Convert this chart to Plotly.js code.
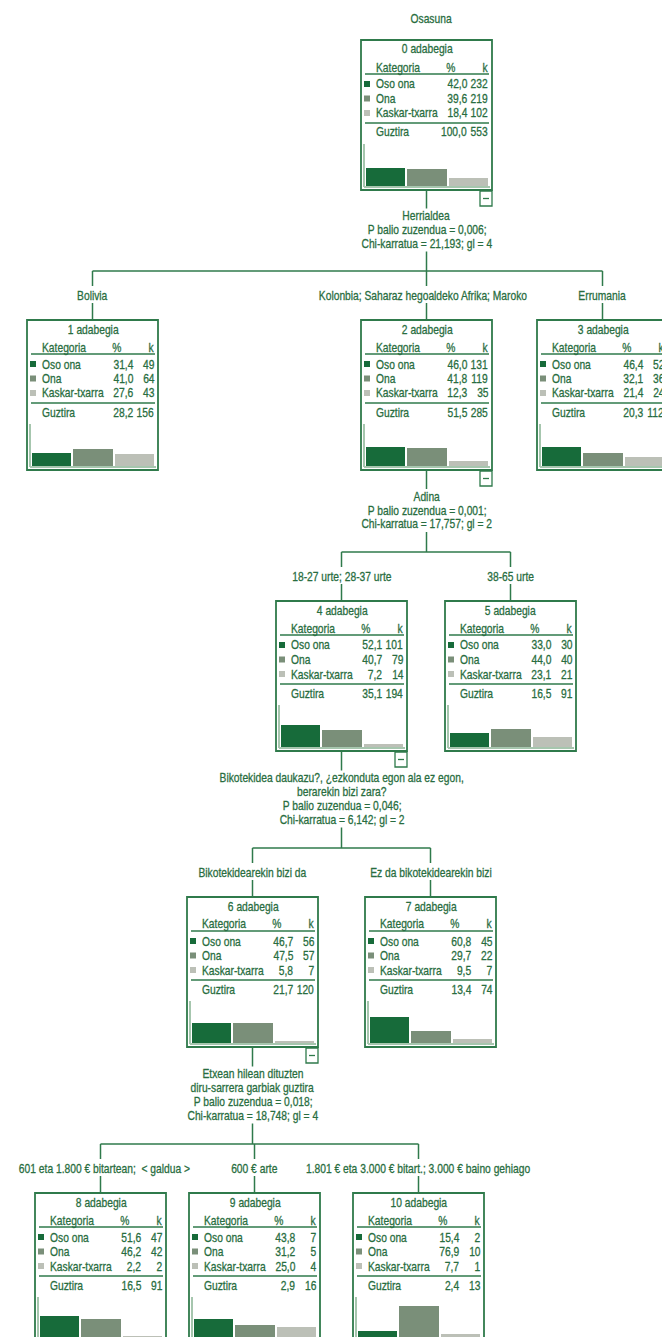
<!DOCTYPE html>
<html><head><meta charset="utf-8">
<script src="https://cdn.plot.ly/plotly-3.0.1.min.js"></script>
<style>html,body{margin:0;padding:0;background:#fff}</style>
</head><body><div id="chart" style="width:662px;height:1337px"></div>
<script>
// ---------------- DATA ----------------
const chartTitle = "Osasuna";
const categories = ["Oso ona", "Ona", "Kaskar-txarra"];
const totalLabel = "Guztira";
const nodeIds   = [0, 1, 2, 3, 4, 5, 6, 7, 8, 9, 10];
const parentOf  = [null, 0, 0, 0, 2, 2, 4, 4, 6, 6, 6];
const pctOsoOna = [42.0, 31.4, 46.0, 46.4, 52.1, 33.0, 46.7, 60.8, 51.6, 43.8, 15.4];
const pctOna    = [39.6, 41.0, 41.8, 32.1, 40.7, 44.0, 47.5, 29.7, 46.2, 31.2, 76.9];
const pctKaskar = [18.4, 27.6, 12.3, 21.4, 7.2, 23.1, 5.8, 9.5, 2.2, 25.0, 7.7];
const nOsoOna   = [232, 49, 131, 52, 101, 30, 56, 45, 47, 7, 2];
const nOna      = [219, 64, 119, 36, 79, 40, 57, 22, 42, 5, 10];
const nKaskar   = [102, 43, 35, 24, 14, 21, 7, 7, 2, 4, 1];
const totalPct  = [100.0, 28.2, 51.5, 20.3, 35.1, 16.5, 21.7, 13.4, 16.5, 2.9, 2.4];
const totalN    = [553, 156, 285, 112, 194, 91, 120, 74, 91, 16, 13];
const edgeLabels = [
  "", "Bolivia", "Kolonbia; Saharaz hegoaldeko Afrika; Maroko", "Errumania",
  "18-27 urte; 28-37 urte", "38-65 urte",
  "Bikotekidearekin bizi da", "Ez da bikotekidearekin bizi",
  "601 eta 1.800 € bitartean;  &lt; galdua &gt;", "600 € arte",
  "1.801 € eta 3.000 € bitart.; 3.000 € baino gehiago"
];
const splitLabels = {
  0: ["Herrialdea", "P balio zuzendua = 0,006;", "Chi-karratua = 21,193; gl = 4"],
  2: ["Adina", "P balio zuzendua = 0,001;", "Chi-karratua = 17,757; gl = 2"],
  4: ["Bikotekidea daukazu?, ¿ezkonduta egon ala ez egon,", "berarekin bizi zara?", "P balio zuzendua = 0,046;", "Chi-karratua = 6,142; gl = 2"],
  6: ["Etxean hilean dituzten", "diru-sarrera garbiak guztira", "P balio zuzendua = 0,018;", "Chi-karratua = 18,748; gl = 4"]
};

// ---------------- LAYOUT (positions / styles) ----------------
const nodeLeft = [361, 27, 361, 537, 276, 445, 187, 365, 35, 189, 353];
const nodeTop  = [40, 320, 320, 320, 601, 601, 897, 897, 1193, 1193, 1193];
const edgeLabelShift = [0, 0, -4, 0, 0, 0, 0, 0, 4, 0, -1];
const W = 662, H = 1337, BW = 131, BH = 150;
const FONT = "'Liberation Sans Narrow', 'Liberation Sans', Arial, sans-serif";
const NARROW = 0.79;
const TXT = "#286d40", LINE = "#2f7a4b", LIGHT = "#a6c6ae";
const barColors = ["#176b3a", "#7a8f79", "#bcc0b7"];
const FS = 13;

const shapes = [], annotations = [], traces = [];
const layout = {
  width: W, height: H, margin: {l: 0, r: 0, t: 0, b: 0},
  paper_bgcolor: "#ffffff", plot_bgcolor: "rgba(0,0,0,0)",
  showlegend: false, bargap: 0
};
const X = x => x / W, Y = y => 1 - y / H;
function line(x0, y0, x1, y1, color, width) {
  shapes.push({type: "line", xref: "paper", yref: "paper", x0: X(x0), y0: Y(y0), x1: X(x1), y1: Y(y1),
    line: {color: color || LINE, width: width || 1.5}});
}
function rect(x0, y0, x1, y1, lc, lw, fill) {
  shapes.push({type: "rect", xref: "paper", yref: "paper", x0: X(x0), y0: Y(y0), x1: X(x1), y1: Y(y1),
    line: {color: lc || "rgba(0,0,0,0)", width: lw || 0}, fillcolor: fill || "rgba(0,0,0,0)"});
}
function text(x, y, str, anchor, size, color) {
  annotations.push({xref: "paper", yref: "paper", x: X(x), y: Y(y), text: str, showarrow: false,
    xanchor: anchor || "center", yanchor: "middle", borderpad: 0,
    font: {family: FONT, size: size || FS, color: color || TXT}});
}
const fmt = v => v.toFixed(1).replace(".", ",");

text(431, 18, chartTitle, "center");

nodeIds.forEach((id, i) => {
  const L = nodeLeft[i], T = nodeTop[i], R = L + BW, B = T + BH;
  const pcts = [pctOsoOna[i], pctOna[i], pctKaskar[i]];
  const ns = [nOsoOna[i], nOna[i], nKaskar[i]];
  const PR = L + 106.5; // right edge of % column
  rect(L, T, R, B, LINE, 1.8);
  line(L + 3, T + 104, L + 3, T + 147, LIGHT, 2);
  line(L + 3, T + 147, R - 2, T + 147, LIGHT, 2);
  text(L + 66, T + 9, id + " adabegia", "center");
  text(L + 14, T + 27, "Kategoria", "left");
  text(L + 90, T + 27, "%", "center");
  text(R - 3, T + 27, "k", "right");
  line(L + 4, T + 34, R - 3, T + 34, LINE, 1.5);
  categories.forEach((c, r) => {
    const y = T + 44 + 14.5 * r;
    rect(L + 3, y - 3, L + 9, y + 3, null, 0, barColors[r]);
    text(L + 14, y, c, "left");
    text(PR, y, fmt(pcts[r]), "right");
    text(R - 3, y, String(ns[r]), "right");
  });
  line(L + 4, T + 83, R - 3, T + 83, LINE, 1.5);
  text(L + 14, T + 92, totalLabel, "left");
  text(PR, T + 92, fmt(totalPct[i]), "right");
  text(R - 3, T + 92, String(totalN[i]), "right");

  // mini bar chart through its own axes
  const a = i + 2;
  const bx0 = L + 4, bx1full = L + 128, bx1 = Math.min(bx1full, W);
  const frac = (bx1 - bx0) / (bx1full - bx0);
  layout["xaxis" + a] = {domain: [X(bx0), X(bx1)], range: [-0.5, -0.5 + 3 * frac], visible: false,
    fixedrange: true, anchor: "y" + a};
  layout["yaxis" + a] = {domain: [Y(T + 146), Y(T + 104)], range: [0, 100], visible: false,
    fixedrange: true, anchor: "x" + a};
  traces.push({type: "bar", x: [0, 1, 2], y: pcts, width: 0.95, marker: {color: barColors, line: {width: 0}},
    xaxis: "x" + a, yaxis: "y" + a, hoverinfo: "skip", showlegend: false});
});

// splits and connectors
Object.keys(splitLabels).forEach(key => {
  const p = +key;
  const L = nodeLeft[p], T = nodeTop[p], R = L + BW, B = T + BH;
  const cx = L + 65.5;
  const kids = nodeIds.filter(i => parentOf[i] === p);
  const hbar = Math.min(...kids.map(k => nodeTop[k])) - 49;
  rect(R - 12, B + 1, R, B + 16, LINE, 1.3, "#ffffff");
  line(R - 9, B + 8.5, R - 3, B + 8.5, LINE, 1.3);
  const lines = splitLabels[p];
  const n = lines.length;
  const cy = (B + hbar) / 2 - 1;
  const first = cy - (n - 1) * 7;
  const last = first + (n - 1) * 14;
  line(cx, B, cx, first - 7);
  lines.forEach((s, j) => text(cx, first + 14 * j, s, "center"));
  line(cx, last + 8, cx, hbar);
  const xs = kids.map(k => nodeLeft[k] + 65.5).concat([cx]);
  line(Math.min(...xs), hbar, Math.max(...xs), hbar);
  kids.forEach(k => {
    const kx = nodeLeft[k] + 65.5, kt = nodeTop[k];
    const ly = kt - 25;
    line(kx, hbar, kx, ly - 9);
    text(kx + edgeLabelShift[k], ly, edgeLabels[k], "center");
    line(kx, ly + 8, kx, kt);
  });
});

layout.shapes = shapes;
layout.annotations = annotations;
Plotly.newPlot("chart", traces, layout, {staticPlot: true, displayModeBar: false}).then(gd => {
  // condensed look: narrow each text horizontally around its own anchor
  gd.querySelectorAll("g.annotation").forEach(g => {
    const idx = +g.getAttribute("data-index");
    const a = annotations[idx];
    if (!a) return;
    const t = g.querySelector("text.annotation-text");
    if (!t) return;
    const origin = a.xanchor === "left" ? "left" : a.xanchor === "right" ? "right" : "center";
    t.style.transformBox = "fill-box";
    t.style.transformOrigin = origin + " center";
    t.style.transform = "scaleX(" + NARROW + ")";
    t.style.stroke = a.font.color;
    t.style.strokeWidth = "0.3px";
  });
});
</script>
</body></html>
